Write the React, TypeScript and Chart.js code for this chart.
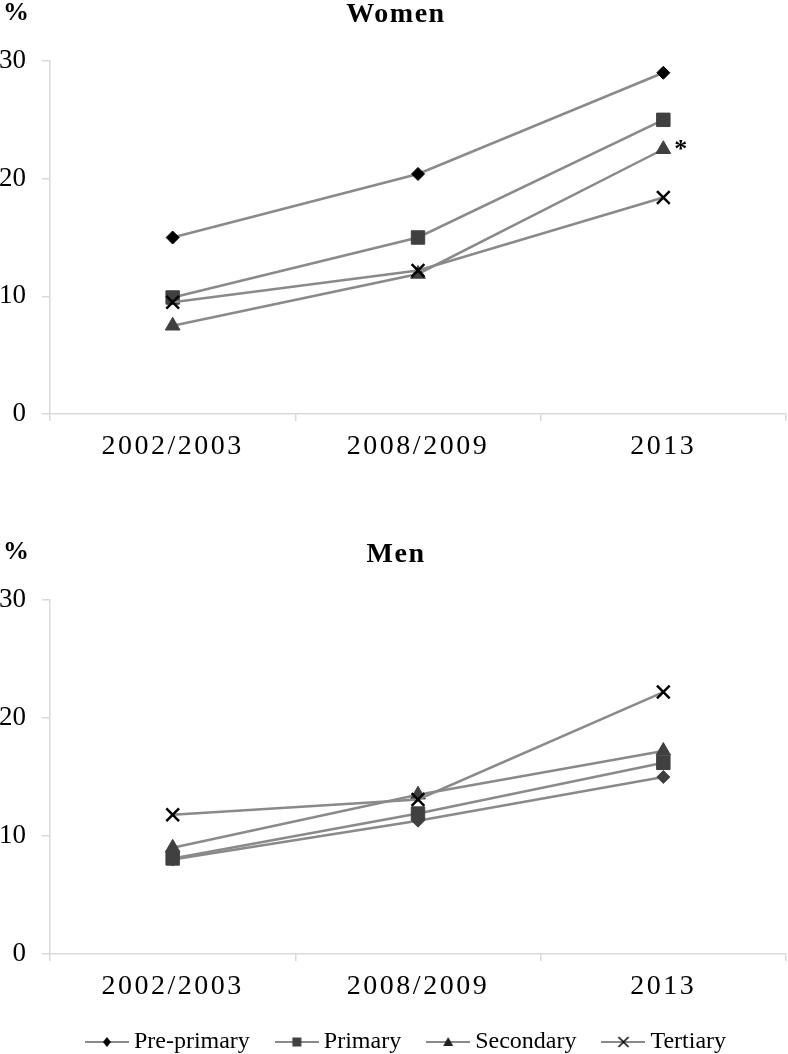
import React, { useEffect, useRef } from 'react';
import { Chart, registerables } from 'chart.js';

Chart.register(...registerables);

// ---------- data ----------
const categories = ['2002/2003', '2008/2009', '2013'];
const seriesNames = ['Pre-primary', 'Primary', 'Secondary', 'Tertiary'];

const womenPrePrimary = [15.0, 20.4, 29.0];
const womenPrimary = [9.9, 15.0, 25.0];
const womenSecondary = [7.5, 11.9, 22.5];
const womenTertiary = [9.5, 12.2, 18.4];

const menPrePrimary = [8.0, 11.3, 15.0];
const menPrimary = [8.1, 11.9, 16.2];
const menSecondary = [9.0, 13.5, 17.2];
const menTertiary = [11.8, 13.1, 22.2];

const yMin = 0;
const yMax = 30;
const yStep = 10;
const unitLabel = '%';
const womenTitle = 'Women';
const menTitle = 'Men';
const starText = '*';
const starSeries = 2; // Secondary
const starCategory = 2; // 2013

// ---------- styles ----------
const FONT = '"Liberation Serif", "Times New Roman", serif';
const LINE = '#8a8a8a';
const DARK = '#404040';
const BLACK = '#000000';
const AXIS = '#d9d9d9';

type Marker = { style: string; radius: number; color: string; border: number };

const womenMarkers: Marker[] = [
  { style: 'rectRot', radius: 6.5, color: BLACK, border: 1 },
  { style: 'rect', radius: 9.5, color: DARK, border: 1 },
  { style: 'triangle', radius: 8.5, color: DARK, border: 1 },
  { style: 'crossRot', radius: 9, color: BLACK, border: 2.5 },
];
const menMarkers: Marker[] = [
  { style: 'rectRot', radius: 6.5, color: DARK, border: 1 },
  { style: 'rect', radius: 9.5, color: DARK, border: 1 },
  { style: 'triangle', radius: 8.5, color: DARK, border: 1 },
  { style: 'crossRot', radius: 9, color: BLACK, border: 2.5 },
];
const drawOrder = [3, 2, 1, 0];

function makeLegendIcon(i: number): HTMLCanvasElement {
  const c = document.createElement('canvas');
  c.width = 44;
  c.height = 18;
  const ctx = c.getContext('2d')!;
  const cy = 9;
  const cx = 22;
  ctx.strokeStyle = LINE;
  ctx.lineWidth = 2;
  ctx.beginPath();
  ctx.moveTo(0, cy);
  ctx.lineTo(44, cy);
  ctx.stroke();
  ctx.beginPath();
  if (i === 0) {
    ctx.fillStyle = BLACK;
    ctx.moveTo(cx, cy - 5);
    ctx.lineTo(cx + 4, cy);
    ctx.lineTo(cx, cy + 5);
    ctx.lineTo(cx - 4, cy);
    ctx.closePath();
    ctx.fill();
  } else if (i === 1) {
    ctx.fillStyle = DARK;
    ctx.fillRect(cx - 4.5, cy - 4.5, 9, 9);
  } else if (i === 2) {
    ctx.fillStyle = '#202020';
    ctx.moveTo(cx, cy - 5);
    ctx.lineTo(cx + 5, cy + 4);
    ctx.lineTo(cx - 5, cy + 4);
    ctx.closePath();
    ctx.fill();
  } else {
    ctx.strokeStyle = BLACK;
    ctx.lineWidth = 1.5;
    ctx.moveTo(cx - 5, cy - 5);
    ctx.lineTo(cx + 5, cy + 5);
    ctx.moveTo(cx + 5, cy - 5);
    ctx.lineTo(cx - 5, cy + 5);
    ctx.stroke();
  }
  return c;
}

function withSpacing(obj: any, method: string, spacing: string) {
  if (!obj || obj['__ls_' + method]) return;
  const orig = obj[method];
  obj[method] = function (...args: any[]) {
    const ctx = this.ctx;
    ctx.save();
    (ctx as any).letterSpacing = spacing;
    const r = orig.apply(this, args);
    ctx.restore();
    return r;
  };
  obj['__ls_' + method] = true;
}

const annotatePlugin = {
  id: 'annotate',
  afterLayout(chart: any, _args: any, opts: any) {
    if (chart.titleBlock) {
      withSpacing(chart.titleBlock, 'draw', '1.5px');
      chart.titleBlock.left += opts.titleShift;
      chart.titleBlock.right += opts.titleShift;
    }
    if (chart.legend && opts.legendShift) {
      chart.legend.left += opts.legendShift;
      chart.legend.right += opts.legendShift;
    }
  },
  afterDraw(chart: any, _args: any, opts: any) {
    const ctx = chart.ctx;
    ctx.save();
    ctx.fillStyle = BLACK;
    ctx.textAlign = 'left';
    ctx.textBaseline = 'middle';
    ctx.font = `bold 26px ${FONT}`;
    ctx.fillText(unitLabel, opts.percentX, opts.percentY);
    if (opts.star) {
      const pt = chart.getDatasetMeta(starSeries).data[starCategory];
      if (pt) {
        ctx.font = `bold 26px ${FONT}`;
        ctx.fillText(starText, pt.x + 11, pt.y + 1);
      }
    }
    ctx.restore();
  },
};

function buildConfig(isMen: boolean, xHeight: number, titlePadBottom: number): any {
  const series = isMen
    ? [menPrePrimary, menPrimary, menSecondary, menTertiary]
    : [womenPrePrimary, womenPrimary, womenSecondary, womenTertiary];
  const markers = isMen ? menMarkers : womenMarkers;
  const datasets = seriesNames.map((name, i) => ({
    label: name,
    data: series[i],
    borderColor: LINE,
    backgroundColor: markers[i].color,
    borderWidth: 2.5,
    fill: false,
    tension: 0,
    pointStyle: markers[i].style,
    pointRadius: markers[i].radius,
    pointHoverRadius: markers[i].radius,
    pointBackgroundColor: markers[i].color,
    pointBorderColor: markers[i].color,
    pointBorderWidth: markers[i].border,
    order: drawOrder[i],
  }));
  const icons = seriesNames.map((_, i) => makeLegendIcon(i));
  return {
    type: 'line',
    data: { labels: categories, datasets },
    plugins: [annotatePlugin],
    options: {
      responsive: false,
      maintainAspectRatio: false,
      animation: false,
      events: [],
      layout: { autoPadding: false, padding: { left: 0, right: 2, top: 0, bottom: 0 } },
      plugins: {
        annotate: {
          percentX: 3,
          percentY: isMen ? 12 : 13.5,
          star: !isMen,
          titleShift: 3,
          legendShift: isMen ? 16 : 0,
        },
        title: {
          display: true,
          text: isMen ? menTitle : womenTitle,
          color: BLACK,
          font: { family: FONT, size: 28, weight: 'bold', lineHeight: 1 },
          padding: { top: 1, bottom: titlePadBottom },
        },
        tooltip: { enabled: false },
        legend: isMen
          ? {
              display: true,
              position: 'bottom',
              labels: {
                usePointStyle: true,
                pointStyleWidth: 30,
                padding: 32,
                color: BLACK,
                font: { family: FONT, size: 24 },
                generateLabels: (chart: any) => {
                  const items = Chart.defaults.plugins.legend.labels.generateLabels(chart);
                  items.sort((a: any, b: any) => a.datasetIndex - b.datasetIndex);
                  return items.map((it: any) => ({ ...it, pointStyle: icons[it.datasetIndex] }));
                },
              },
            }
          : { display: false },
      },
      scales: {
        x: {
          type: 'category',
          offset: true,
          grid: {
            offset: true,
            drawOnChartArea: false,
            drawTicks: true,
            tickLength: 7,
            color: AXIS,
            lineWidth: 1.5,
          },
          border: { display: true, color: AXIS, width: 1.5 },
          ticks: {
            color: BLACK,
            font: { family: FONT, size: 28 },
            padding: 9,
            maxRotation: 0,
            autoSkip: false,
          },
          afterFit: (s: any) => {
            s.height = xHeight;
            s.paddingLeft = 0;
            s.paddingRight = 0;
            withSpacing(s, 'drawLabels', '2.5px');
          },
        },
        y: {
          min: yMin,
          max: yMax,
          ticks: {
            stepSize: yStep,
            color: BLACK,
            font: { family: FONT, size: 27 },
            padding: 16,
          },
          grid: {
            drawOnChartArea: false,
            drawTicks: true,
            tickLength: 8,
            color: AXIS,
            lineWidth: 1.5,
          },
          border: { display: true, color: AXIS, width: 1.5 },
          afterFit: (s: any) => {
            s.width = 50;
          },
        },
      },
    },
  };
}

function Panel(props: { isMen: boolean; top: number; height: number; xHeight: number; titlePadBottom: number }) {
  const ref = useRef<HTMLCanvasElement>(null);
  useEffect(() => {
    const chart = new Chart(
      ref.current as HTMLCanvasElement,
      buildConfig(props.isMen, props.xHeight, props.titlePadBottom)
    );
    return () => chart.destroy();
  }, []);
  return (
    <canvas
      ref={ref}
      width={788}
      height={props.height}
      style={{ position: 'absolute', left: 0, top: props.top, width: 788, height: props.height }}
    />
  );
}

export default function App() {
  return (
    <div
      style={{
        position: 'absolute',
        left: 0,
        top: 0,
        width: 788,
        height: 1054,
        overflow: 'hidden',
        background: '#ffffff',
      }}
    >
      <Panel isMen={false} top={0} height={480} xHeight={66} titlePadBottom={32} />
      <Panel isMen={true} top={540} height={524} xHeight={44} titlePadBottom={31} />
    </div>
  );
}
